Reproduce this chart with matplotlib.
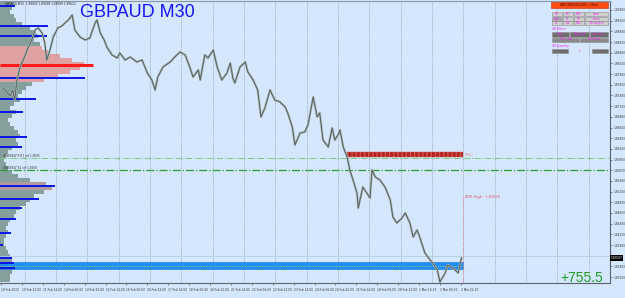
import matplotlib
matplotlib.use("Agg")
import matplotlib.pyplot as plt
import numpy as np
from matplotlib.patches import Rectangle

W, H = 625, 298

# --- price path (M30 bar index from 10 Feb 06:00, close) ---
bars = [3, 9, 14, 18, 21, 24, 29, 34, 40, 47, 52, 57, 63, 67, 70, 75, 80, 87, 93, 98,
        103, 109, 113, 121, 129, 136, 144, 147, 152, 158, 162, 170, 178, 182, 190, 198,
        208, 216, 224, 231, 236, 240, 248, 259, 266, 274, 282, 289, 294, 302, 305, 312,
        317, 325, 331, 338, 346, 351, 355, 358, 366, 374, 378, 386, 393, 398, 404, 412,
        419, 427, 435, 439, 446, 450, 458, 465, 470, 478, 484, 488, 493, 501, 507, 511,
        516, 519, 524, 530, 534, 539, 545, 547, 554, 560, 565, 568, 573, 580, 588, 596,
        600, 606, 614, 619, 626, 631, 637, 641, 649, 657, 661, 668, 672, 680, 684, 692,
        700, 705]
closes = [1.87575, 1.87481, 1.87387, 1.87528, 1.87294, 1.87715, 1.88066, 1.88230, 1.88464,
          1.88698, 1.88932, 1.88979, 1.88862, 1.88628, 1.88230, 1.88464, 1.88768, 1.88979,
          1.89025, 1.89096, 1.89166, 1.89283, 1.88932, 1.88768, 1.88698, 1.88745, 1.89096,
          1.89166, 1.88862, 1.88698, 1.88534, 1.88347, 1.88277, 1.88394, 1.88230, 1.88300,
          1.88183, 1.88230, 1.87926, 1.87762, 1.87528, 1.87832, 1.88066, 1.88183, 1.88300,
          1.88417, 1.88347, 1.88066, 1.87832, 1.87996, 1.87762, 1.88347, 1.88277, 1.88464,
          1.88066, 1.87762, 1.87926, 1.88160, 1.87809, 1.87692, 1.88066, 1.88183, 1.87949,
          1.87762, 1.87528, 1.86896, 1.87107, 1.87528, 1.87294, 1.87250, 1.87130, 1.86990,
          1.86662, 1.86241, 1.86522, 1.86545, 1.86709, 1.87364, 1.86896, 1.86990, 1.86358,
          1.86194, 1.86639, 1.86358, 1.86475, 1.86592, 1.86194, 1.85960, 1.85656, 1.85422,
          1.85118, 1.84767, 1.85258, 1.85118, 1.85001, 1.85656, 1.85492, 1.85422, 1.85258,
          1.84954, 1.84556, 1.84416, 1.84533, 1.84650, 1.84416, 1.84088, 1.84252, 1.84088,
          1.83714, 1.83550, 1.83480, 1.83316, 1.83035, 1.83246, 1.83433, 1.83363, 1.83246,
          1.83597]

# --- volume profile (top to bottom, width in px-ish units) ---
profile_vol = [14, 12, 10, 14, 16, 22, 30, 36, 38, 34, 40, 42, 48, 60, 72, 84, 80, 70, 58,
               44, 32, 26, 22, 18, 20, 14, 10, 16, 12, 8, 10, 14, 18, 20, 16, 18, 12, 8, 6,
               4, 6, 8, 12, 18, 30, 46, 52, 44, 34, 30, 26, 20, 16, 14, 10, 8, 6, 8, 6, 4,
               4, 6, 8, 10, 12, 14, 14, 12, 10, 10]
profile_levels = np.arange(len(profile_vol)) * -0.000936 + 1.89540   # bin centres
poc_prices = [1.89493, 1.89025, 1.88791, 1.87809, 1.87317, 1.87013, 1.86428, 1.86194,
              1.85282, 1.84978, 1.84767, 1.84510, 1.84182, 1.83901, 1.83597, 1.83480,
              1.83363]
poc_len = [15, 48, 47, 85, 36, 23, 27, 22, 55, 39, 22, 16, 11, 3, 12, 14, 15]
main_poc = 1.88113

# --- levels / zones ---
pivot_hi, pivot_lo = 1.85937, 1.85656
supply = (1.85960, 1.86077)
demand = (1.83339, 1.83503)
ask_line = 1.83643
adr_high = 1.85025
last_price = closes[-1]

x_labels = ["10 Feb 2022", "10 Feb 22:00", "11 Feb 14:00", "14 Feb 06:00", "14 Feb 22:00",
            "15 Feb 14:00", "16 Feb 06:00", "16 Feb 22:00", "17 Feb 14:00", "18 Feb 06:00",
            "18 Feb 22:00", "21 Feb 14:00", "22 Feb 06:00", "22 Feb 22:00", "23 Feb 14:00",
            "24 Feb 06:00", "24 Feb 22:00", "25 Feb 14:00", "28 Feb 06:00", "28 Feb 22:00",
            "1 Mar 14:00", "2 Mar 06:00", "2 Mar 22:00"]

BG = "#d5e7fc"
PXB = 1.531          # bars per pixel
x_lo, x_hi = -1.53, 932.4
y_lo, y_hi = 1.830116, 1.896104
SMALL = 2.1

fig = plt.figure(figsize=(W / 100, H / 100), dpi=100, facecolor=BG)
ax = fig.add_axes([0, 1 - 283 / H, 610 / W, 282 / H], facecolor=BG)
ax.set_xlim(x_lo, x_hi)
ax.set_ylim(y_lo, y_hi)

# day grid
for b in range(36, 932, 48):
    ax.axvline(b, color="#8594a3", lw=0.6, ls=(0, (1, 1.6)), zorder=1)

# volume profile
cols = []
for lvl in profile_levels:
    if 1.8775 <= lvl <= 1.8855:
        cols.append("#e29a98")
    elif 1.8518 <= lvl <= 1.8540:
        cols.append("#ad9391")
    else:
        cols.append("#7b9792")
ax.barh(profile_levels, np.array(profile_vol) * PXB, height=0.00072, left=x_lo,
        color=cols, edgecolor="none", alpha=0.9, zorder=2)

# zones
ax.add_patch(Rectangle((x_lo, demand[0]), 707 - x_lo, demand[1] - demand[0],
                       fc="#1e8ffc", ec="#1670d8", lw=0.4, zorder=3))
ax.hlines((demand[0] + demand[1]) / 2, x_lo, 707, color="#a8d040", lw=0.7,
          linestyles=(0, (1, 1.5)), zorder=4)
ax.add_patch(Rectangle((530, supply[0]), 707 - 530, supply[1] - supply[0],
                       fc="#b02222", ec="#d05a4a", lw=0.3, hatch="||||", zorder=3))
ax.axhline(ask_line, color="#b4cce4", lw=0.6, zorder=2)
ax.axhline(pivot_hi, color="#7acb7a", lw=0.7, ls="-.", zorder=3)
ax.axhline(pivot_lo, color="#2f9a2f", lw=0.9, ls="-.", zorder=3)
ax.vlines(707, y_lo, adr_high, color="#e48a90", lw=0.6, linestyles=(0, (1, 1)), zorder=3)

# POC lines
for p, ln in zip(poc_prices, poc_len):
    ax.hlines(p, x_lo, x_lo + ln * PXB, color="#0a14e6", lw=1.4, zorder=5)
ax.hlines(main_poc, x_lo, x_lo + 93 * PXB, color="#ff1a1a", lw=2.2, zorder=5)

# price
ax.plot(bars, closes, color="#a3b1af", lw=1.6, zorder=6)
ax.plot(bars, closes, color="#4f5a58", lw=0.6, zorder=7)

# small texts on chart
ax.text(3, pivot_hi + 0.0001, "#WEEKLY P-R1 ref 1.8595", fontsize=SMALL, color="#333",
        va="bottom", zorder=8)
ax.text(3, pivot_lo + 0.0001, "#WEEKLY S1 ref 1.8566", fontsize=SMALL, color="#333",
        va="bottom", zorder=8)
ax.text(710, (supply[0] + supply[1]) / 2, "[M30]", fontsize=SMALL, color="#e08a8a",
        va="center", zorder=8)
ax.text(710, (demand[0] + demand[1]) / 2, "[M30]", fontsize=SMALL, color="#e8f0ff",
        va="center", zorder=8)
ax.text(710, adr_high, "ADR High : 1.85025", fontsize=2.5, color="#e0506a",
        va="center", zorder=8)

# axes styling
ax.spines["left"].set_visible(False)
ax.spines["top"].set_color("#8a96a2")
ax.spines["right"].set_color("#5a6570")
ax.spines["bottom"].set_color("#5a6570")
for s in ("top", "right", "bottom"):
    ax.spines[s].set_linewidth(0.8)
ax.yaxis.tick_right()
yt = 1.8940 - 0.0025 * np.arange(26)
ax.set_yticks(yt)
# the tick hidden under the current-price marker carries no label
ax.set_yticklabels(["" if abs(v - last_price) < 0.0012 else f"{v:.5f}" for v in yt])
ax.tick_params(axis="y", labelsize=SMALL, length=1.5, width=0.4, pad=0.8, colors="#333")
ax.set_xticks(np.arange(len(x_labels)) * 32)
ax.set_xticklabels(x_labels, ha="left")
ax.tick_params(axis="x", labelsize=SMALL, length=1.5, width=0.4, pad=2, colors="#333")

ax.annotate(f"{last_price:.5f}", xy=(1.0, last_price), xycoords=("axes fraction", "data"),
            xytext=(0.6, 0), textcoords="offset points", fontsize=SMALL, color="white",
            va="center", ha="left", annotation_clip=False,
            bbox=dict(boxstyle="square,pad=0.2", fc="black", ec="none"), zorder=9)

# header / title
fig.text(5 / W, 1 - 4 / H, "GBPAUD,M30  1.89690 1.89699 1.89589 1.89622", fontsize=SMALL,
         color="#222", va="center")
fig.text(80 / W, 1 - 4 / H, "GBPAUD M30", fontsize=13, color="#1616f5",
         family="Liberation Sans", va="top")
fig.text(603 / W, 1 - 282 / H, "+755.5", fontsize=10, color="#1f9a24",
         family="Liberation Sans", ha="right", va="baseline")


# control panel (UI buttons, pixel placement)
def box(x0, y0, x1, y1, face, label="", tcolor="#ee22ee", edge="#8c8c8c"):
    fig.add_artist(Rectangle((x0 / W, 1 - y1 / H), (x1 - x0) / W, (y1 - y0) / H,
                             transform=fig.transFigure, fc=face, ec=edge, lw=0.4))
    if label:
        fig.text((x0 + x1) / 2 / W, 1 - (y0 + y1) / 2 / H, label, fontsize=1.9,
                 color=tcolor, ha="center", va="center")


box(551, 2.5, 608, 8, "#ff4a12", "SAM ORDER BLOCKS - H Ride", tcolor="#3a0000", edge="#c03000")
btn_rows = [["M1", "M5", "M15", "Clear"], ["M30", "H1", "H4", "Prices"],
            ["D1", "W1", "MN1", "Rectangles"]]
col_x = [(552, 562), (563, 573), (574, 584), (585, 608)]
for r, row in enumerate(btn_rows):
    y0 = 12 + r * 4.6
    for c, lab in enumerate(row):
        face = "#a9a9a9" if lab == "M30" else "#cfcfcf"
        box(col_x[c][0], y0, col_x[c][1], y0 + 4.2, face, lab)
fig.text(552 / W, 1 - 29.5 / H, "OB Filters:", fontsize=2.0, color="#ee22ee", va="center")
box(552, 32, 569, 36.5, "#6e6e6e", "Valid")
box(570, 32, 589, 36.5, "#6e6e6e", "Mitigated")
box(590, 32, 608, 36.5, "#6e6e6e", "Breakers")
box(552, 37.5, 579, 41.5, "#8a8a8a", "OB to OB")
box(580, 37.5, 608, 41.5, "#8a8a8a", "OB Mirror")
fig.text(552 / W, 1 - 45.5 / H, "OB Quantity:", fontsize=2.0, color="#ee22ee", va="center")
box(552, 49, 568, 53, "#6e6e6e", "-")
fig.text(580 / W, 1 - 51 / H, "1", fontsize=2.0, color="#ee22ee", ha="center", va="center")
box(592, 49, 608, 53, "#6e6e6e", "+")

fig.savefig("out.png", dpi=100, facecolor=BG)
